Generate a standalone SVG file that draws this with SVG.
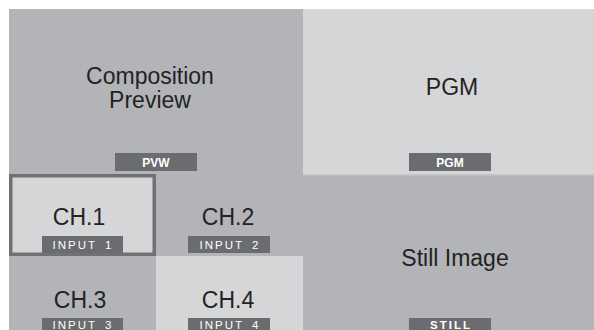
<svg xmlns="http://www.w3.org/2000/svg" width="594" height="330" viewBox="0 0 594 330">
<style>
.dark{fill:#b3b4b7}
.light{fill:#d5d6d8}
.big{font-family:"Liberation Sans",Arial,sans-serif;font-size:23px;fill:#232323;text-anchor:middle}
.tag{fill:#6b6c6f}
.tagt{font-family:"Liberation Sans",Arial,sans-serif;font-size:12px;fill:#ffffff;text-anchor:middle}
.b{font-weight:bold}
.sp{font-size:11.5px;letter-spacing:2px;word-spacing:3px}
</style>
<rect x="0" y="0" width="594" height="330" fill="#ffffff"/>
<g id="preview">
<rect class="dark" x="9" y="9" width="294" height="165"/>
<text class="big" x="150" y="84">Composition</text>
<text class="big" x="150" y="108">Preview</text>
<rect class="tag" x="115" y="153" width="82" height="18"/>
<text class="tagt b" x="156" y="166.5">PVW</text>
</g>
<g id="pgm">
<rect class="light" x="303" y="9" width="291" height="165"/>
<text class="big" x="452" y="95">PGM</text>
<rect class="tag" x="409" y="153" width="82" height="18"/>
<text class="tagt b" x="450" y="166.5">PGM</text>
</g>
<g id="still">
<rect class="dark" x="303" y="174" width="291" height="156"/>
<rect x="303" y="174" width="291" height="1.5" fill="#c6c7c9"/>
<text class="big" x="455" y="266">Still Image</text>
<rect class="tag" x="409" y="318" width="82" height="18"/>
<text class="tagt sp b" x="451" y="329">STILL</text>
</g>
<g id="ch2">
<rect class="dark" x="156" y="174" width="147" height="82"/>
<text class="big" x="228" y="225">CH.2</text>
<rect class="tag" x="188" y="236" width="82" height="17"/>
<text class="tagt sp" x="230" y="249">INPUT 2</text>
</g>
<g id="ch3">
<rect class="dark" x="9" y="256" width="147" height="74"/>
<text class="big" x="80" y="308">CH.3</text>
<rect class="tag" x="42" y="318" width="81" height="18"/>
<text class="tagt sp" x="83" y="329">INPUT 3</text>
</g>
<g id="ch4">
<rect class="light" x="156" y="256" width="147" height="74"/>
<text class="big" x="228" y="308">CH.4</text>
<rect class="tag" x="188" y="318" width="82" height="18"/>
<text class="tagt sp" x="230" y="329">INPUT 4</text>
</g>
<g id="ch1">
<rect class="light" x="10.75" y="175.75" width="143.5" height="78.5" stroke="#707173" stroke-width="3.5"/>
<text class="big" x="79" y="225">CH.1</text>
<rect class="tag" x="42" y="236" width="81" height="17"/>
<text class="tagt sp" x="83" y="249">INPUT 1</text>
</g>
<g id="connectors"></g>
</svg>
